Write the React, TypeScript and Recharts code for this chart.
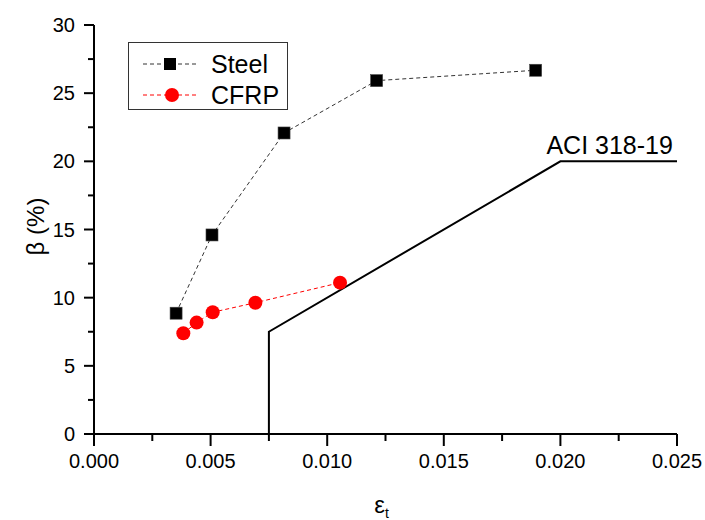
import React from "react";
import {
  LineChart,
  Line,
  XAxis,
  YAxis,
  Legend,
  ReferenceDot,
} from "recharts";

const steelStrain = [0.00352, 0.00506, 0.00815, 0.01212, 0.01894];
const steelBeta = [8.86, 14.6, 22.08, 25.92, 26.68];
const cfrpStrain = [0.00383, 0.0044, 0.00509, 0.00692, 0.01055];
const cfrpBeta = [7.39, 8.17, 8.93, 9.63, 11.1];
const aciStrain = [0.0075, 0.0075, 0.02, 0.025];
const aciBeta = [0, 7.5, 20, 20];
const xTicks = [0, 0.0025, 0.005, 0.0075, 0.01, 0.0125, 0.015, 0.0175, 0.02, 0.0225, 0.025];
const yTicks = [0, 2.5, 5, 7.5, 10, 12.5, 15, 17.5, 20, 22.5, 25, 27.5, 30];

const font = "'Liberation Sans', Arial, sans-serif";

const zip = (xs: number[], ys: number[]) => xs.map((x, i) => ({ x, y: ys[i] }));
const steel = zip(steelStrain, steelBeta);
const cfrp = zip(cfrpStrain, cfrpBeta);
const aci = zip(aciStrain, aciBeta);

const isMajor = (v: number, step: number) =>
  Math.abs(v / step - Math.round(v / step)) < 1e-6;

function XTick(props: any) {
  const { x, y, payload } = props;
  const major = isMajor(payload.value, 0.005);
  return (
    <g>
      <line x1={x} x2={x} y1={y} y2={y + (major ? 12 : 7)} stroke="#000" strokeWidth={2} />
      {major && (
        <text x={x} y={y + 34} textAnchor="middle" fontSize={20} fontFamily={font} fill="#000">
          {payload.value.toFixed(3)}
        </text>
      )}
    </g>
  );
}

function YTick(props: any) {
  const { x, y, payload } = props;
  const major = isMajor(payload.value, 5);
  return (
    <g>
      <line x1={x} x2={x - (major ? 10 : 6)} y1={y} y2={y} stroke="#000" strokeWidth={2} />
      {major && (
        <text x={x - 19} y={y + 7} textAnchor="end" fontSize={20} fontFamily={font} fill="#000">
          {payload.value}
        </text>
      )}
    </g>
  );
}

function SquareDot(props: any) {
  const { cx, cy } = props;
  if (cx == null || cy == null) return null;
  return <rect x={cx - 6} y={cy - 6} width={12} height={12} fill="#000" stroke="#444" strokeWidth={0.6} />;
}

function CircleDot(props: any) {
  const { cx, cy } = props;
  if (cx == null || cy == null) return null;
  return <circle cx={cx} cy={cy} r={7} fill="#ff0000" />;
}

function LegendBox() {
  return (
    <div style={{ width: 160, height: 68, border: "1px solid #333", boxSizing: "border-box", background: "#fff" }}>
      <svg width={158} height={66}>
        <line x1={14} x2={68} y1={21} y2={21} stroke="#333" strokeDasharray="4 3" />
        <rect x={35} y={15} width={12} height={12} fill="#000" />
        <text x={82} y={30} fontSize={25} fontFamily={font} fill="#000">Steel</text>
        <line x1={14} x2={68} y1={52} y2={52} stroke="#ff0000" strokeDasharray="4 3" />
        <circle cx={43} cy={52} r={7} fill="#ff0000" />
        <text x={82} y={61} fontSize={25} fontFamily={font} fill="#000">CFRP</text>
      </svg>
    </div>
  );
}

function YTitle(props: any) {
  const { viewBox } = props;
  const cx = viewBox.x + 35;
  const cy = viewBox.y + viewBox.height / 2 - 3;
  return (
    <text x={cx} y={cy} transform={`rotate(-90 ${cx} ${cy})`} textAnchor="middle" dominantBaseline="central" fontSize={24} fontFamily={font} fill="#000">
      β (%)
    </text>
  );
}

function XTitle(props: any) {
  const { viewBox } = props;
  const cx = viewBox.x + viewBox.width / 2 - 4;
  return (
    <text x={cx} y={viewBox.y + 79} textAnchor="middle" fontSize={24} fontFamily={font} fill="#000">
      ε<tspan fontSize={14} dy={5}>t</tspan>
    </text>
  );
}

function AciText(props: any) {
  const { cx, cy } = props;
  return (
    <text x={cx} y={cy - 7} fontSize={25} fontFamily={font} fill="#000">
      ACI 318-19
    </text>
  );
}

export default function App() {
  return (
    <div style={{ position: "absolute", left: 0, top: 0, background: "#fff" }}>
      <LineChart width={705} height={520} margin={{ top: 25, right: 28, bottom: 0, left: 0 }}>
        <XAxis
          dataKey="x"
          type="number"
          domain={[0, 0.025]}
          ticks={xTicks}
          interval={0}
          allowDataOverflow
          height={86}
          tickSize={0}
          tickMargin={0}
          tickLine={false}
          tick={<XTick />}
          axisLine={{ stroke: "#000", strokeWidth: 2 }}
          label={<XTitle />}
        />
        <YAxis
          dataKey="y"
          type="number"
          domain={[0, 30]}
          ticks={yTicks}
          interval={0}
          allowDataOverflow
          width={94}
          tickSize={0}
          tickMargin={0}
          tickLine={false}
          tick={<YTick />}
          axisLine={{ stroke: "#000", strokeWidth: 2 }}
          label={<YTitle />}
        />
        <Legend
          verticalAlign="middle"
          align="center"
          layout="horizontal"
          content={() => <LegendBox />}
          wrapperStyle={{ position: "absolute", left: 128, top: 42, width: 160, height: 68 }}
        />
        <Line
          data={aci}
          dataKey="y"
          name="ACI 318-19"
          stroke="#000"
          strokeWidth={2}
          dot={false}
          legendType="none"
          isAnimationActive={false}
        />
        <Line
          data={steel}
          dataKey="y"
          name="Steel"
          stroke="#333"
          strokeWidth={1}
          strokeDasharray="4 3"
          dot={<SquareDot />}
          isAnimationActive={false}
        />
        <Line
          data={cfrp}
          dataKey="y"
          name="CFRP"
          stroke="#ff0000"
          strokeWidth={1}
          strokeDasharray="4 3"
          dot={<CircleDot />}
          isAnimationActive={false}
        />
        <ReferenceDot x={0.0194} y={20} r={0} shape={<AciText />} />
      </LineChart>
    </div>
  );
}
